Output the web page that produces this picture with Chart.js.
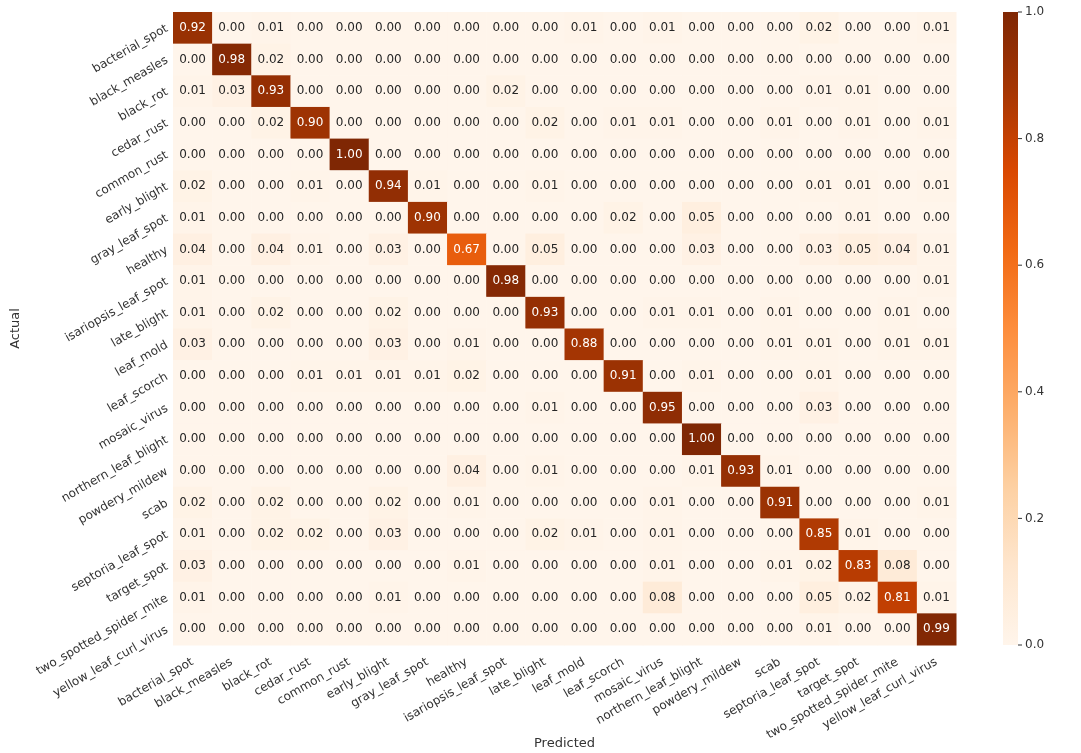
<!DOCTYPE html>
<html><head><meta charset="utf-8">
<script src="https://cdn.jsdelivr.net/npm/chart.js@4/dist/chart.umd.min.js"></script>
<style>html,body{margin:0;padding:0;background:#fff}#w{width:1081px;height:753px}</style>
</head><body><div id="w"><canvas id="c"></canvas></div>
<script>
const classes=["bacterial_spot","black_measles","black_rot","cedar_rust","common_rust","early_blight","gray_leaf_spot","healthy","isariopsis_leaf_spot","late_blight","leaf_mold","leaf_scorch","mosaic_virus","northern_leaf_blight","powdery_mildew","scab","septoria_leaf_spot","target_spot","two_spotted_spider_mite","yellow_leaf_curl_virus"];
const matrix=[
[0.92,0,0.01,0,0,0,0,0,0,0,0.01,0,0.01,0,0,0,0.02,0,0,0.01],
[0,0.98,0.02,0,0,0,0,0,0,0,0,0,0,0,0,0,0,0,0,0],
[0.01,0.03,0.93,0,0,0,0,0,0.02,0,0,0,0,0,0,0,0.01,0.01,0,0],
[0,0,0.02,0.90,0,0,0,0,0,0.02,0,0.01,0.01,0,0,0.01,0,0.01,0,0.01],
[0,0,0,0,1.00,0,0,0,0,0,0,0,0,0,0,0,0,0,0,0],
[0.02,0,0,0.01,0,0.94,0.01,0,0,0.01,0,0,0,0,0,0,0.01,0.01,0,0.01],
[0.01,0,0,0,0,0,0.90,0,0,0,0,0.02,0,0.05,0,0,0,0.01,0,0],
[0.04,0,0.04,0.01,0,0.03,0,0.67,0,0.05,0,0,0,0.03,0,0,0.03,0.05,0.04,0.01],
[0.01,0,0,0,0,0,0,0,0.98,0,0,0,0,0,0,0,0,0,0,0.01],
[0.01,0,0.02,0,0,0.02,0,0,0,0.93,0,0,0.01,0.01,0,0.01,0,0,0.01,0],
[0.03,0,0,0,0,0.03,0,0.01,0,0,0.88,0,0,0,0,0.01,0.01,0,0.01,0.01],
[0,0,0,0.01,0.01,0.01,0.01,0.02,0,0,0,0.91,0,0.01,0,0,0.01,0,0,0],
[0,0,0,0,0,0,0,0,0,0.01,0,0,0.95,0,0,0,0.03,0,0,0],
[0,0,0,0,0,0,0,0,0,0,0,0,0,1.00,0,0,0,0,0,0],
[0,0,0,0,0,0,0,0.04,0,0.01,0,0,0,0.01,0.93,0.01,0,0,0,0],
[0.02,0,0.02,0,0,0.02,0,0.01,0,0,0,0,0.01,0,0,0.91,0,0,0,0.01],
[0.01,0,0.02,0.02,0,0.03,0,0,0,0.02,0.01,0,0.01,0,0,0,0.85,0.01,0,0],
[0.03,0,0,0,0,0,0,0.01,0,0,0,0,0.01,0,0,0.01,0.02,0.83,0.08,0],
[0.01,0,0,0,0,0.01,0,0,0,0,0,0,0.08,0,0,0,0.05,0.02,0.81,0.01],
[0,0,0,0,0,0,0,0,0,0,0,0,0,0,0,0,0.01,0,0,0.99]];
const cbarTicks=[0,0.2,0.4,0.6,0.8,1.0];
const stops=[[255,245,235],[254,230,206],[253,208,162],[253,174,107],[253,141,60],[241,105,19],[217,72,1],[166,54,3],[127,39,4]];
function cmap(v){const t=Math.max(0,Math.min(1,v))*8,i=Math.min(7,Math.floor(t)),f=t-i,a=stops[i],b=stops[i+1];
return `rgb(${a.map((c,k)=>Math.round(c+(b[k]-c)*f)).join(',')})`;}
const pts=[];matrix.forEach((r,i)=>r.forEach((v,j)=>pts.push({x:classes[j],y:classes[i],v})));
const FONT="'DejaVu Sans', sans-serif";
const heat={id:'heat',beforeDatasetsDraw(ch){const {ctx,scales:{x,y},chartArea:ca}=ch;
const w=x.getPixelForValue(1)-x.getPixelForValue(0),h=y.getPixelForValue(1)-y.getPixelForValue(0);
ctx.save();ctx.textAlign='center';ctx.textBaseline='middle';ctx.font='12px '+FONT;
pts.forEach(p=>{const cx=x.getPixelForValue(classes.indexOf(p.x)),cy=y.getPixelForValue(classes.indexOf(p.y));
ctx.fillStyle=cmap(p.v);ctx.fillRect(cx-w/2,cy-h/2,w+0.5,h+0.5);
ctx.fillStyle=p.v>0.5?'#fff':'#262626';ctx.fillText(p.v.toFixed(2),cx,cy);});
ctx.fillStyle='#333';ctx.textAlign='right';
classes.forEach((c,i)=>{const cy=y.getPixelForValue(i);ctx.save();ctx.translate(ca.left-6,cy);ctx.rotate(-Math.PI/6);ctx.fillText(c,0,0);ctx.restore();});
ctx.save();ctx.translate(16,(ca.top+ca.bottom)/2);ctx.rotate(-Math.PI/2);ctx.textAlign='center';ctx.font='13px '+FONT;ctx.fillText('Actual',0,0);ctx.restore();
const bx=1003,bw=15,top=ca.top,bot=ca.bottom;const g=ctx.createLinearGradient(0,bot,0,top);
stops.forEach((s,k)=>g.addColorStop(k/8,`rgb(${s.join(',')})`));ctx.fillStyle=g;ctx.fillRect(bx,top,bw,bot-top);
ctx.fillStyle='#333';ctx.strokeStyle='#333';ctx.textAlign='left';ctx.font='12px '+FONT;
cbarTicks.forEach(t=>{const py=bot-(bot-top)*t;ctx.beginPath();ctx.moveTo(bx+bw,py);ctx.lineTo(bx+bw+4,py);ctx.stroke();ctx.fillText(t.toFixed(1),bx+bw+7,py);});
ctx.restore();}};
new Chart(document.getElementById('c'),{type:'scatter',data:{datasets:[{data:pts,pointRadius:0}]},
options:{responsive:true,maintainAspectRatio:false,animation:false,
layout:{padding:{left:165,right:125,top:12,bottom:2}},
plugins:{legend:{display:false},tooltip:{enabled:false}},
scales:{x:{type:'category',labels:classes,offset:true,grid:{display:false},border:{display:false},
afterFit:s=>{s.height=106;},
ticks:{minRotation:30,maxRotation:30,padding:2,color:'#333',font:{size:12,family:FONT}},
title:{display:true,text:'Predicted',color:'#333',padding:0,font:{size:13,family:FONT}}},
y:{type:'category',labels:classes,offset:true,grid:{display:false},border:{display:false},ticks:{display:false}}}},
plugins:[heat]});
</script></body></html>
